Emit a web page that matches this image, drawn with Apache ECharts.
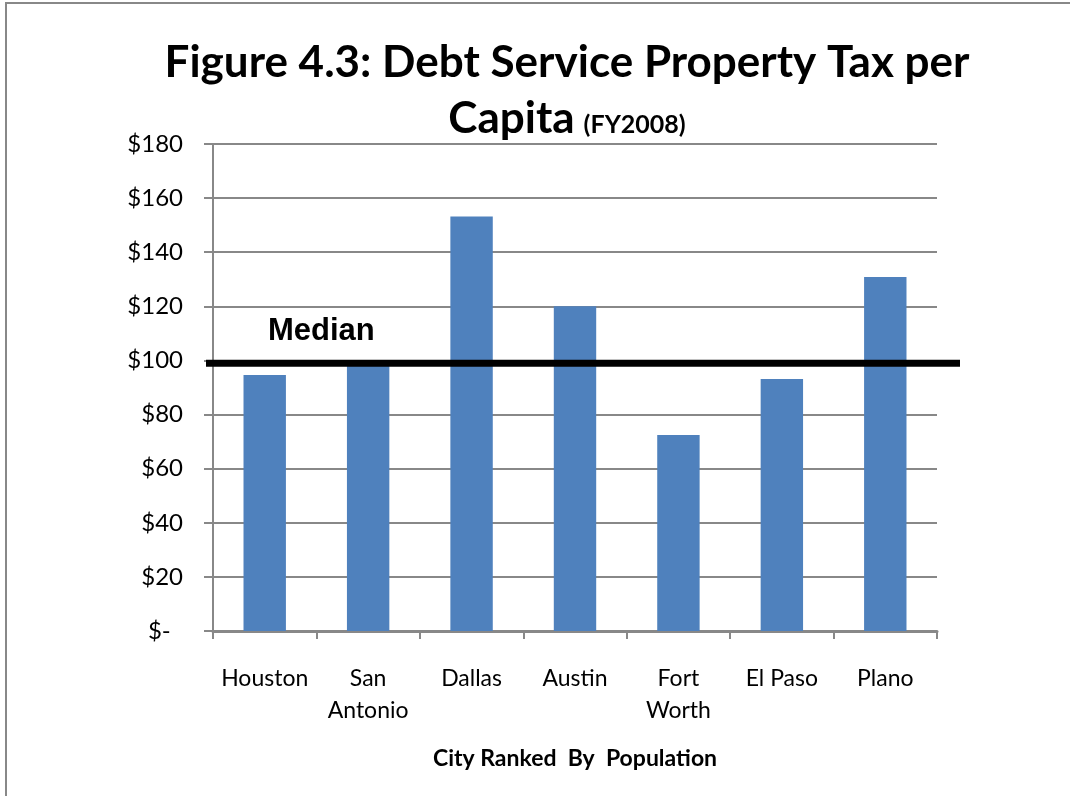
<!DOCTYPE html>
<html>
<head>
<meta charset="utf-8">
<script src="https://cdn.jsdelivr.net/npm/echarts@6/dist/echarts.min.js"></script>
<style>
  html, body { margin: 0; padding: 0; background: #fff; }
  #chart { width: 1070px; height: 796px; }
</style>
</head>
<body>
<div id="chart"></div>
<script>
// Cities ranked by population and their FY2008 debt service property tax per capita
const cities = ['Houston', 'San\nAntonio', 'Dallas', 'Austin', 'Fort\nWorth', 'El Paso', 'Plano'];
const perCapita = [94.6, 99, 153.2, 120, 72.4, 93.1, 130.8];
const medianValue = 99;
const yTicks = { min: 0, max: 180, interval: 20 };

const FONT = 'Lato, "Open Sans", sans-serif';
const chart = echarts.init(document.getElementById('chart'));

function money(v) {
  return v === 0 ? '$-  ' : '$' + v;
}

chart.setOption({
  animation: false,
  backgroundColor: '#fff',
  grid: { left: 213, right: 133, top: 144, bottom: 165 },
  xAxis: {
    type: 'category',
    data: cities,
    name: 'City Ranked  By  Population',
    nameLocation: 'middle',
    nameGap: 116,
    nameTextStyle: { fontFamily: FONT, fontWeight: 'bold', fontSize: 23, color: '#000' },
    axisLine: { lineStyle: { color: '#888', width: 3 } },
    axisTick: { show: true, length: 8, lineStyle: { color: '#888', width: 2 } },
    axisLabel: { interval: 0, fontFamily: FONT, fontSize: 23, color: '#000', margin: 32, lineHeight: 32 }
  },
  yAxis: {
    type: 'value',
    min: yTicks.min,
    max: yTicks.max,
    interval: yTicks.interval,
    axisLine: { show: true, lineStyle: { color: '#888', width: 2 } },
    axisTick: { show: true, length: 9, lineStyle: { color: '#888', width: 2 } },
    axisLabel: { fontFamily: FONT, fontSize: 24, color: '#000', margin: 30, formatter: money },
    splitLine: { lineStyle: { color: '#888', width: 2 } }
  },
  series: [{
    type: 'bar',
    data: perCapita,
    barWidth: '41%',
    itemStyle: { color: '#4F81BD' }
  }]
});

// Frame, two-line title, and the median reference line positioned through the y scale
const yMed = chart.convertToPixel({ yAxisIndex: 0 }, medianValue);
chart.setOption({
  graphic: [
    {
      type: 'rect',
      shape: { x: 6, y: 3, width: 1200, height: 1000 },
      style: { fill: 'none', stroke: '#888', lineWidth: 2 },
      silent: true
    },
    {
      type: 'text',
      x: 567,
      y: 35,
      style: {
        text: '{a|Figure 4.3: Debt Service Property Tax per}\n{a|Capita}{b|(FY2008)}',
        align: 'center',
        verticalAlign: 'top',
        rich: {
          a: { fontFamily: FONT, fontWeight: 'bold', fontSize: 44, fill: '#000', lineHeight: 56 },
          b: { fontFamily: FONT, fontWeight: 'bold', fontSize: 25, fill: '#000', lineHeight: 56, verticalAlign: 'middle', padding: [12, 0, 0, 9] }
        }
      }
    },
    {
      type: 'line',
      shape: { x1: 206, y1: yMed, x2: 960, y2: yMed },
      style: { stroke: '#000', lineWidth: 7 },
      z: 10
    },
    {
      type: 'text',
      x: 268,
      y: yMed - 32,
      style: {
        text: 'Median',
        font: 'bold 31px "Liberation Sans", Arial, sans-serif',
        fill: '#000',
        verticalAlign: 'middle'
      },
      z: 10
    }
  ]
});
</script>
</body>
</html>
